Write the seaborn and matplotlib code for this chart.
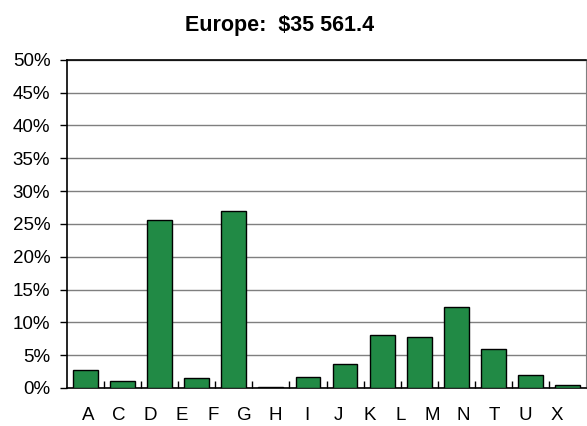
import matplotlib
matplotlib.use("Agg")
import matplotlib.pyplot as plt
import numpy as np
import pandas as pd
import seaborn as sns
from matplotlib.ticker import PercentFormatter

# 14 bars are drawn, but the source chart carries 16 category labels
BAR_IDS = ["b01", "b02", "b03", "b04", "b05", "b06", "b07",
           "b08", "b09", "b10", "b11", "b12", "b13", "b14"]
SHARE_PCT = [2.8, 1.1, 25.6, 1.5, 26.9, 0.2, 1.7, 3.6, 8.0, 7.7, 12.3, 5.9, 2.0, 0.4]
TICK_LABELS = ["A", "C", "D", "E", "F", "G", "H", "I",
               "J", "K", "L", "M", "N", "T", "U", "X"]
TITLE = "Europe:  $35 561.4"

BAR_COLOR = "#218a45"
GRID_COLOR = "#7f7f7f"

sns.set_style("white", {"text.color": "black", "xtick.color": "black",
                        "ytick.color": "black", "axes.labelcolor": "black"})
plt.rcParams["font.family"] = ["Liberation Sans", "DejaVu Sans"]

df = pd.DataFrame({"bar": BAR_IDS, "share": SHARE_PCT})

W, H = 587, 426
fig = plt.figure(figsize=(W / 100, H / 100), dpi=100)
ax = fig.add_axes([67 / W, (H - 388) / H, (586 - 67) / W, (388 - 59.7) / H])

sns.barplot(data=df, x="bar", y="share", color=BAR_COLOR, saturation=1,
            edgecolor="black", linewidth=1.0, width=0.67, ax=ax, zorder=3)

ax.set_xlim(-0.5, len(BAR_IDS) - 0.5)
ax.set_ylim(0, 50)
ax.set_yticks(np.arange(0, 51, 5))
ax.yaxis.set_major_formatter(PercentFormatter(decimals=0))
ax.yaxis.grid(True, color=GRID_COLOR, linewidth=1.0, zorder=0)
ax.set_axisbelow(True)
ax.set_xlabel("")
ax.set_ylabel("")

# small inward ticks between the bars
ax.set_xticks(np.arange(0.5, len(BAR_IDS) - 0.5, 1.0))
ax.set_xticklabels([])
ax.tick_params(axis="x", direction="in", length=5, width=1, color="black")
ax.tick_params(axis="y", direction="out", length=5, width=1, color="black",
               labelcolor="black", labelsize=13.5, pad=7, left=True)

for side in ["left", "bottom", "top"]:
    ax.spines[side].set_color("black")
    ax.spines[side].set_linewidth(1.2)
ax.spines["right"].set_color(GRID_COLOR)

# category labels sit on their own evenly spaced scale
lab = ax.twiny()
lab.set_xlim(-0.67, 15.93)
lab.set_xticks(np.arange(len(TICK_LABELS)))
lab.set_xticklabels(TICK_LABELS)
lab.xaxis.set_ticks_position("bottom")
lab.xaxis.set_label_position("bottom")
lab.tick_params(axis="x", length=0, labelsize=13.5, labelcolor="black", pad=14)
for s in lab.spines.values():
    s.set_visible(False)

fig.text(279.5 / W, 1 - 26 / H, TITLE, ha="center", va="center",
         fontsize=15.5, fontweight="bold", color="black")

fig.savefig("out.png", dpi=100)
